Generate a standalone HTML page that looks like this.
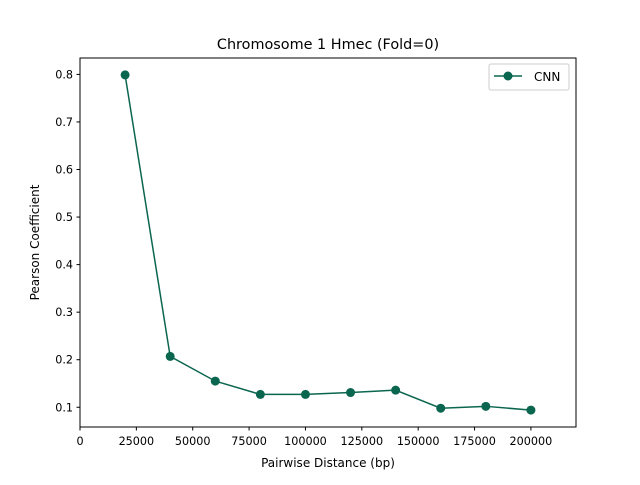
<!DOCTYPE html>
<html><head><meta charset="utf-8"><style>
body{margin:0;background:#fff;font-family:"Liberation Sans","DejaVu Sans",sans-serif;}
svg text{font-family:"DejaVu Sans","Liberation Sans",sans-serif;fill:#000;}
</style></head><body>
<svg id="chart" width="640" height="480" viewBox="0 0 640 480">
<rect width="640" height="480" fill="#fff"/>
<text x="328" y="49" font-size="14.4" text-anchor="middle">Chromosome 1 Hmec (Fold=0)</text>
<g id="ticks"></g>
<g id="series"></g>
<rect x="80" y="58" width="496" height="369" fill="none" stroke="#000" stroke-width="1"/>
<text x="328" y="467" font-size="12" text-anchor="middle">Pairwise Distance (bp)</text>
<text transform="translate(39,242.5) rotate(-90)" font-size="12" text-anchor="middle">Pearson Coefficient</text>
<g>
<rect x="489" y="64" width="80" height="26" rx="2" fill="#fff" stroke="#ccc"/>
<line x1="494" y1="76" x2="522" y2="76" stroke="#0b6650" stroke-width="1.5"/>
<circle cx="508" cy="76" r="4.5" fill="#0b6650"/>
<text x="534" y="81" font-size="12">CNN</text>
</g>
</svg>
<script>
const distances=[20000,40000,60000,80000,100000,120000,140000,160000,180000,200000];
const pearson=[0.799,0.207,0.155,0.127,0.127,0.131,0.136,0.098,0.102,0.094];
const xTicks=[0,25000,50000,75000,100000,125000,150000,175000,200000];
const yTicks=[0.1,0.2,0.3,0.4,0.5,0.6,0.7,0.8];
const NS='http://www.w3.org/2000/svg';
const x0=80,x1=576,y0=427,y1=58,xmin=0,xmax=220000,ymin=0.0585,ymax=0.8345;
function sx(v){return x0+(v-xmin)/(xmax-xmin)*(x1-x0);}
function sy(v){return y0-(v-ymin)/(ymax-ymin)*(y0-y1);}
function mk(tag,attrs,parent){const e=document.createElementNS(NS,tag);for(const k in attrs)e.setAttribute(k,attrs[k]);parent.appendChild(e);return e;}
const tg=document.getElementById('ticks');
xTicks.forEach(t=>{
  const l=mk('line',{x1:sx(t),x2:sx(t),y1:y0,y2:y0+3.5,stroke:'#000'},tg);
  
  
  const tx=mk('text',{x:sx(t),y:y0+18,'font-size':'11.2','text-anchor':'middle'},tg);
  tx.textContent=String(t);
  
  
});
yTicks.forEach(t=>{
  const l=mk('line',{x1:x0-3.5,x2:x0,y1:sy(t),y2:sy(t),stroke:'#000'},tg);
  
  
  const tx=mk('text',{x:x0-7,y:sy(t)+4,'font-size':'11.2','text-anchor':'end'},tg);
  tx.textContent=t.toFixed(1);
  
  
});
const sg=document.getElementById('series');
const pts=distances.map((d,i)=>sx(d)+','+sy(pearson[i])).join(' ');
const pl=mk('polyline',{points:pts,fill:'none',stroke:'#0b6650','stroke-width':'1.5'},sg);


distances.forEach((d,i)=>{
  const c=mk('circle',{cx:sx(d),cy:sy(pearson[i]),r:4.5,fill:'#0b6650'},sg);
  
  
});
</script>
</body></html>
